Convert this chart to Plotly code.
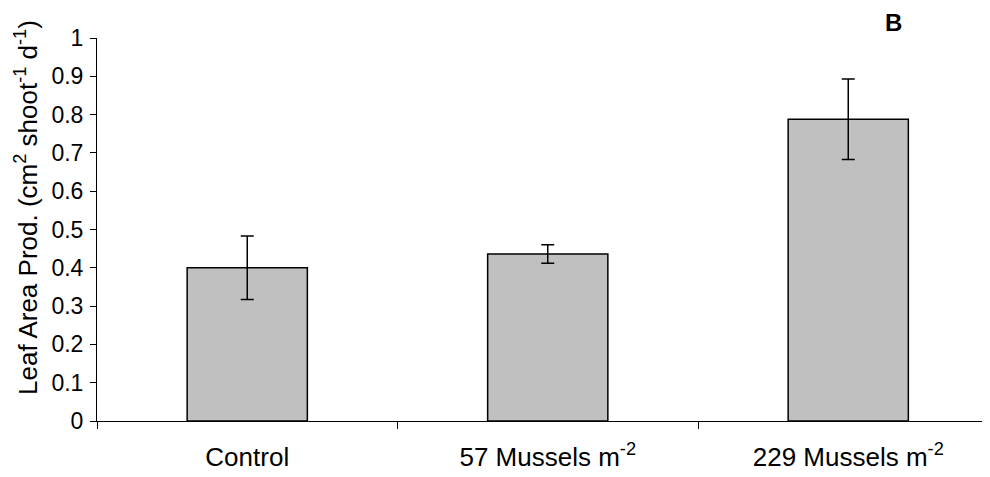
import plotly.graph_objects as go

categories = ["Control", "57 Mussels m<sup>-2</sup>", "229 Mussels m<sup>-2</sup>"]
means = [0.40, 0.436, 0.788]
errors = [0.083, 0.024, 0.105]
y_ticks = [0, 0.1, 0.2, 0.3, 0.4, 0.5, 0.6, 0.7, 0.8, 0.9, 1]
y_tick_labels = ["0", "0.1", "0.2", "0.3", "0.4", "0.5", "0.6", "0.7", "0.8", "0.9", "1"]
y_title = "Leaf Area Prod. (cm<sup>2</sup> shoot<sup>-1</sup> d<sup>-1</sup>)"
panel_label = "<b>B</b>"

FONT = "Liberation Sans, Arial, sans-serif"

# page body has an 8px margin; compensate so the figure lands at the reference pixels
OFF = 8
W, H = 990 - OFF, 477 - OFF
L = 97 - OFF
T = 38 - OFF
BOTTOM_Y = 421 - OFF
plot_w = W - L
plot_h = BOTTOM_Y - T

fig = go.Figure()
fig.add_trace(go.Bar(
    x=categories, y=means, width=0.4,
    marker=dict(color="#C0C0C0", line=dict(color="black", width=1.5)),
    error_y=dict(type="data", array=errors, visible=True, color="black",
                 thickness=1.5, width=6.5),
))

fig.update_layout(
    width=W, height=H,
    margin=dict(l=L, r=0, t=T, b=H - BOTTOM_Y, pad=0, autoexpand=False),
    paper_bgcolor="white", plot_bgcolor="white",
    font=dict(family=FONT, color="black"),
    showlegend=False,
)
fig.update_xaxes(
    range=[-0.5, -0.5 + plot_w / 300.5],
    showline=True, linecolor="black", linewidth=1,
    ticks="outside", ticklen=7, tickcolor="black", tickwidth=1,
    tickson="boundaries",
    tickfont=dict(size=26, family=FONT, color="black"),
    ticklabelstandoff=13,
    showgrid=False, zeroline=False,
)
fig.update_yaxes(
    range=[0, 1],
    tickvals=y_ticks, ticktext=y_tick_labels,
    showline=True, linecolor="black", linewidth=1,
    ticks="outside", ticklen=6, tickcolor="black", tickwidth=1,
    tickfont=dict(size=23, family=FONT, color="black"),
    ticklabelstandoff=2,
    showgrid=False, zeroline=False,
)
fig.add_annotation(
    text=y_title, textangle=-90, showarrow=False,
    xref="paper", yref="paper",
    x=(26 - 97) / plot_w, y=(421 - 208) / plot_h,
    xanchor="center", yanchor="middle",
    font=dict(size=26, family=FONT, color="black"),
)
fig.add_annotation(
    text=panel_label, showarrow=False,
    xref="paper", yref="paper",
    x=(893 - 97) / plot_w, y=BOTTOM_Y / plot_h,
    xanchor="center", yanchor="top", borderpad=0,
    font=dict(size=24, family=FONT, color="black"),
)

fig.write_html("out.html")
